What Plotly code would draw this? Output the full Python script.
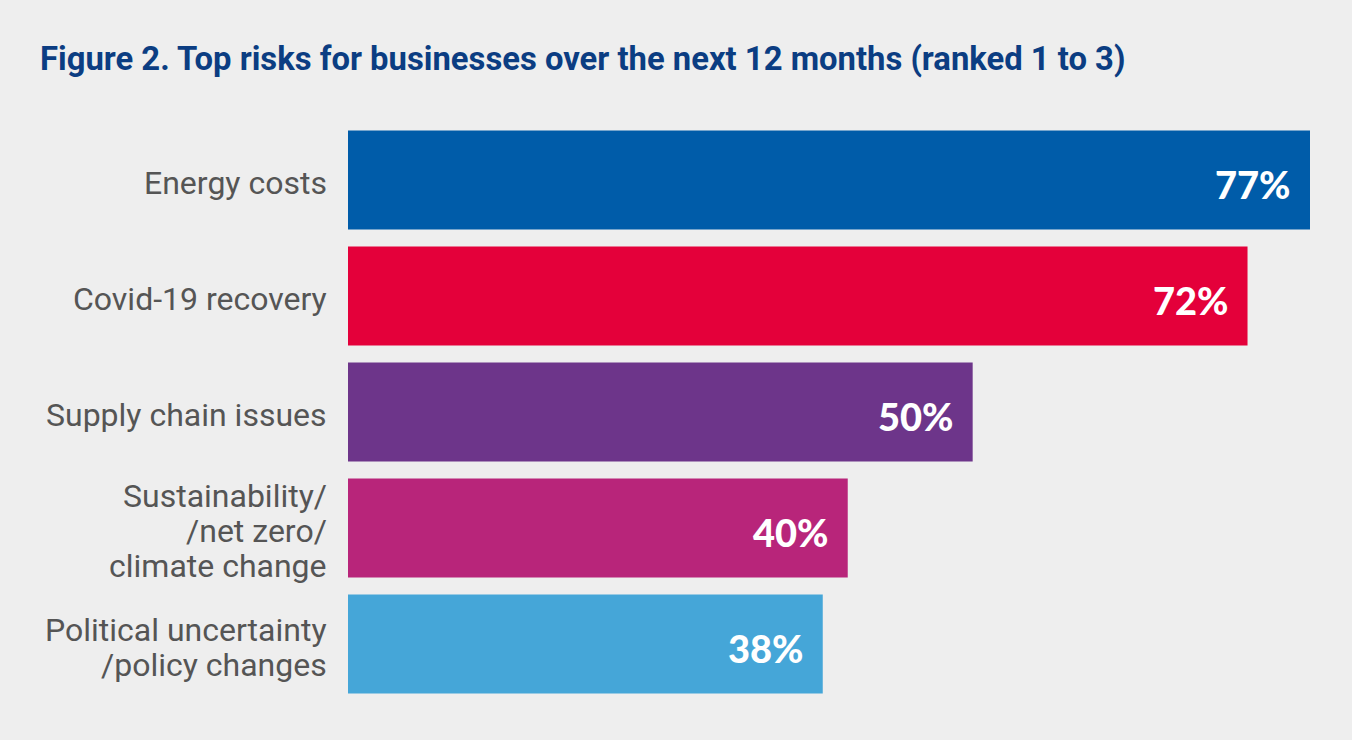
import plotly.graph_objects as go

categories = ["Energy costs", "Covid-19 recovery", "Supply chain issues",
              "Sustainability/<br>/net zero/<br>climate change",
              "Political uncertainty<br>/policy changes"]
values = [77, 72, 50, 40, 38]
value_labels = ["77%", "72%", "50%", "40%", "38%"]
colors = ["#005CA9", "#E4003A", "#6D358A", "#B8257A", "#45A6D8"]

fig = go.Figure()
fig.add_trace(go.Bar(
    x=values, y=categories, orientation="h",
    marker=dict(color=colors, line=dict(width=0)),
    hoverinfo="skip",
))

# value labels at bar ends
for v, c, t in zip(values, categories, value_labels):
    fig.add_annotation(x=v, y=c, text=t, xanchor="right", yanchor="middle",
                       xshift=-17, yshift=-4, showarrow=False,
                       font=dict(family="Lato Black, Lato Heavy, Lato", size=38,
                                 color="white", weight=900))

# category labels (one annotation per line for tight leading)
LINE = 35
for c in categories:
    lines = c.split("<br>")
    n = len(lines)
    for i, ln in enumerate(lines):
        fig.add_annotation(x=0, y=c, text=ln, xanchor="right", yanchor="middle",
                           xshift=-19, yshift=((n - 1) / 2 - i) * LINE - 3,
                           showarrow=False,
                           font=dict(family="Roboto", size=32, color="#555555"))

fig.update_layout(
    width=1352, height=740,
    paper_bgcolor="#EEEEEE", plot_bgcolor="#EEEEEE",
    margin=dict(l=348, r=42, t=121.5, b=37.5),
    bargap=0.146,
    showlegend=False,
    title=dict(text="<b>Figure 2. Top risks for businesses over the next 12 months (ranked 1 to 3)</b>",
               x=40/1352, xanchor="left", y=1-59/740, yanchor="middle",
               font=dict(family="Roboto", size=32.8, color="#0B3D82")),
    xaxis=dict(range=[0, 77], visible=False, fixedrange=True),
    yaxis=dict(autorange="reversed", showgrid=False, zeroline=False, showline=False,
               ticks="", showticklabels=False, fixedrange=True),
)

fig.write_html("out.html", config={"displayModeBar": False},
               post_script="document.body.style.margin='0';")
